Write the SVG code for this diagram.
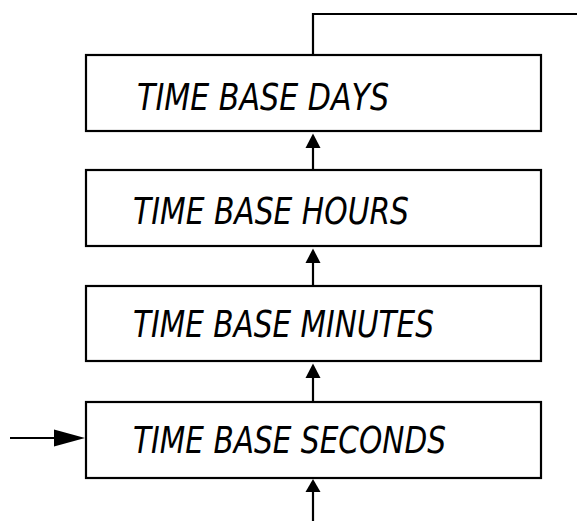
<svg xmlns="http://www.w3.org/2000/svg" width="577" height="521" viewBox="0 0 577 521">
<style>
.box{fill:#fff;stroke:#000;stroke-width:2.2}
.lbl{font-family:"DejaVu Sans","Liberation Sans",sans-serif;font-style:italic;font-size:38px;fill:#000}
.wire{fill:none;stroke:#000;stroke-width:2.2}
.head{fill:#000;stroke:none}
</style>
<rect width="577" height="521" fill="#fff"/>
<g id="connectors">
<polyline class="wire" points="313,55 313,14 577,14"/>
<line class="wire" x1="313" y1="170" x2="313" y2="146"/>
<polygon class="head" points="313,133.5 305.5,148 320.5,148"/>
<line class="wire" x1="313" y1="286" x2="313" y2="261"/>
<polygon class="head" points="313,248.5 305.5,263 320.5,263"/>
<line class="wire" x1="313" y1="402" x2="313" y2="376"/>
<polygon class="head" points="313,363.5 305.5,378 320.5,378"/>
<line class="wire" x1="313" y1="521" x2="313" y2="490"/>
<polygon class="head" points="313,479 305.5,492 320.5,492"/>
<line class="wire" x1="10" y1="438" x2="56" y2="438"/>
<polygon class="head" points="85,438 54,429.5 54,446.5"/>
</g>
<g id="days">
<rect class="box" x="86" y="55" width="455" height="76"/>
<text class="lbl" x="137" y="110" textLength="252" lengthAdjust="spacingAndGlyphs">TIME BASE DAYS</text>
</g>
<g id="hours">
<rect class="box" x="86" y="170" width="455" height="76"/>
<text class="lbl" x="133" y="224" textLength="276" lengthAdjust="spacingAndGlyphs">TIME BASE HOURS</text>
</g>
<g id="minutes">
<rect class="box" x="86" y="286" width="455" height="75"/>
<text class="lbl" x="133" y="337" textLength="301" lengthAdjust="spacingAndGlyphs">TIME BASE MINUTES</text>
</g>
<g id="seconds">
<rect class="box" x="86" y="402" width="455" height="76"/>
<text class="lbl" x="133" y="453" textLength="313" lengthAdjust="spacingAndGlyphs">TIME BASE SECONDS</text>
</g>
</svg>
